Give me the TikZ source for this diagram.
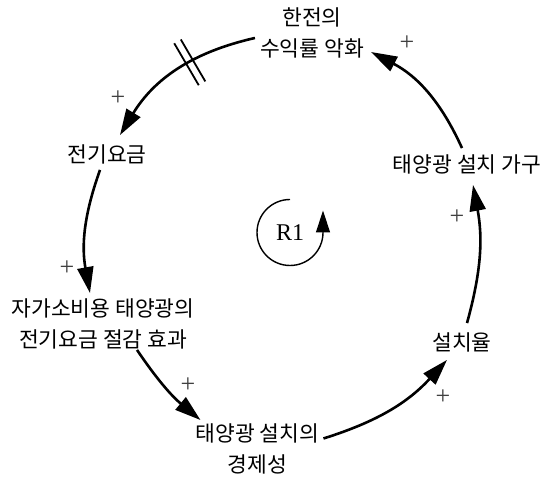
\documentclass[tikz,border=0pt]{standalone}
\usepackage{fontspec}
\newfontfamily\krfont{Noto Sans CJK KR}
\newfontfamily\rfont{Liberation Serif}
\usetikzlibrary{arrows.meta}
\begin{document}
\begin{tikzpicture}[
    x=1pt, y=1pt,
    >={Triangle[length=26pt,width=16pt]},
    var/.style={
        font=\krfont\fontsize{21.5}{31}\selectfont,
        align=center,
        inner sep=2pt
    },
    link/.style={
        ->,
        line width=2.6pt,
        draw=black
    },
    pol/.style={
        font=\rfont\fontsize{26}{26}\selectfont,
        text=black!75,
        inner sep=0pt
    },
    delay/.style={
        minimum width=5pt,
        minimum height=46pt,
        inner sep=0pt
    },
    delayline/.style={line width=1.8pt},
    loopline/.style={
        -{Triangle[length=22pt,width=14pt]},
        line width=1.4pt
    }
]
    \useasboundingbox (0,0) rectangle (546,479);

    % variables of the loop
    \node[var] (kepco) at (312,446) {한전의\\수익률 악화};
    \node[var] (tariff) at (107,325) {전기요금};
    \node[var] (saving) at (103,155.5) {자가소비용 태양광의\\전기요금 절감 효과};
    \node[var] (econ) at (257.5,30.5) {태양광 설치의\\경제성};
    \node[var] (rate) at (462,137) {설치율};
    \node[var] (homes) at (467,315) {태양광 설치 가구};

    % causal links
    \draw[link] ([xshift=-3pt,yshift=-5pt]kepco.west) to[bend right=23]
        node[pos=.4, sloped, delay] (dl) {}
        ([xshift=13pt,yshift=7pt]tariff.north);
    \draw[delayline] (dl.north west) -- (dl.south west)
        (dl.north east) -- (dl.south east);
    \draw[link] ([xshift=-7pt,yshift=-4pt]tariff.south) to[bend right=15]
        ([xshift=-13pt,yshift=3pt]saving.north);
    \draw[link] ([xshift=34pt,yshift=1pt]saving.south) to[bend right=8]
        ([xshift=-57pt,yshift=1pt]econ.north);
    \draw[link] ([xshift=2pt,yshift=10pt]econ.east) to[bend right=15]
        ([xshift=-15pt,yshift=-6pt]rate.south);
    \draw[link] ([xshift=5pt,yshift=7pt]rate.north) to[bend right=13]
        ([xshift=6pt,yshift=-9pt]homes.south);
    \draw[link] ([xshift=-5pt,yshift=4pt]homes.north) to[bend right=19]
        ([xshift=5pt,yshift=-19pt]kepco.east);

    % polarity signs
    \foreach \n/\x/\y in {
        p1/118/381, p2/67/211, p3/188/94,
        p4/443/82, p5/457/262, p6/407/436
    }{
        \node[pol] (\n) at (\x,\y) {+};
    }

    % loop identifier
    \node[font=\rfont\fontsize{24}{24}\selectfont] (r1) at (290,246.5) {R1};
    \draw[loopline] ([yshift=33pt]r1.center)
        arc[start angle=90, end angle=360, radius=33] -- ++(0,22);

\end{tikzpicture}
\end{document}
